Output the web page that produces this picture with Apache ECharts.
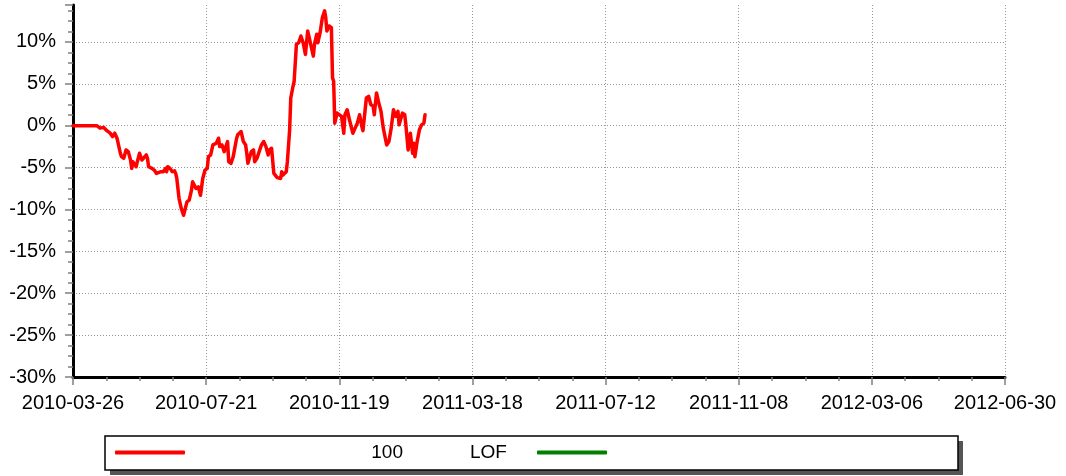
<!DOCTYPE html>
<html lang="en">
<head>
    <meta charset="UTF-8">
    <title>100 LOF</title>
    <script src="https://cdn.jsdelivr.net/npm/echarts@6/dist/echarts.min.js"></script>
    <style>
        html, body { margin: 0; padding: 0; background: #fff; }
    </style>
</head>
<body>
<div id="main" style="width: 1066px;height: 476px"></div>
<script type="text/javascript">
    // x tick labels (equally spaced on the axis)
    var xLabels = ['2010-03-26', '2010-07-21', '2010-11-19', '2011-03-18',
        '2011-07-12', '2011-11-08', '2012-03-06', '2012-06-30'];
    var daysPerTick = 118;

    // days since 2010-03-26
    var dayOffsets = [
        0, 21, 24, 27, 30, 33, 35, 37, 39, 40,
        42, 43, 45, 47, 49, 51, 52, 53, 56, 57,
        59, 61, 62, 65, 66, 67, 70, 72, 74, 75,
        78, 80, 82, 83, 84, 86, 88, 90, 91, 92,
        94, 96, 98, 99, 101, 103, 105, 106, 109, 111,
        113, 114, 115, 117, 119, 120, 122, 124, 127, 129,
        130, 132, 134, 137, 138, 140, 142, 145, 146, 149,
        151, 153, 154, 155, 158, 160, 161, 163, 164, 167,
        169, 171, 173, 174, 176, 177, 178, 181, 184, 185,
        186, 189, 190, 192, 193, 195, 196, 198, 200, 202,
        204, 206, 208, 209, 213, 214, 216, 217, 219, 221,
        223, 224, 225, 227, 229, 230, 231, 232, 234, 235,
        238, 240, 241, 243, 245, 248, 249, 252, 254, 256,
        257, 260, 262, 264, 266, 267, 269, 271, 273, 275,
        278, 280, 282, 284, 286, 288, 289, 292, 294, 295,
        297, 299, 301, 302, 303, 305, 307, 309, 311, 312
    ];
    // cumulative return, %
    var returns100 = [
        0, 0, -0.3, -0.2, -0.6, -0.9, -1.3, -0.9, -1.5, -1.7,
        -3.3, -3.7, -3.9, -2.9, -3.1, -4.1, -5.1, -4.3, -4.9, -4.3,
        -3.3, -4.1, -4.3, -3.5, -3.9, -4.9, -5.1, -5.3, -5.7, -5.9,
        -5.5, -5.5, -5.1, -5.5, -4.9, -5.1, -5.5, -5.4, -5.7, -6.3,
        -8.7, -9.9, -10.7, -10.5, -9.1, -8.9, -7.7, -6.7, -7.5, -7.3,
        -8.3, -8.3, -6.3, -5.3, -5.1, -3.7, -3.5, -2.3, -2.1, -1.5,
        -2.5, -2.3, -3.1, -1.9, -4.3, -4.5, -3.7, -1.5, -1.1, -0.7,
        -1.9, -2.3, -3.3, -4.5, -3.1, -2.9, -4.3, -3.9, -4.1, -2.3,
        -1.9, -2.5, -3.5, -2.9, -2.7, -4.2, -5.7, -6.2, -6.3, -5.5,
        -5.9, -5.5, -4.3, -0.5, 3.3, 4.7, 5.3, 9.7, 9.9, 10.7,
        9.9, 8.5, 11.3, 10.7, 8.3, 9.7, 10.9, 9.9, 11.1, 12.9,
        13.7, 12.9, 11.3, 11.9, 11.7, 5.7, 5.3, 0.3, 1.5, 1.7,
        1.1, -0.9, 1.3, 1.9, 0.7, -0.9, -0.7, 0.3, 1.3, -0.1,
        -0.6, 3.3, 3.5, 2.5, 2.3, 1.3, 3.9, 2.7, 1.7, -0.3,
        -2.3, -1.9, -0.3, 1.9, 1.1, 1.7, 0.1, 1.5, 1.3, 0.1,
        -2.9, -0.9, -3.3, -2.1, -3.7, -1.9, -0.5, 0.1, 0.3, 1.3
    ];
    var returnsLOF = [];

    var font = 'Arial, "Liberation Sans", sans-serif';

    var myEcharts = echarts.init(document.getElementById('main'));
    var option = {
        animation: false,
        backgroundColor: '#fff',
        grid: { left: 73, right: 61, top: 5, bottom: 99 },
        graphic: [
            // legend frame with hard shadow
            { type: 'rect', z: 1, shape: { x: 110, y: 441, width: 853, height: 34 }, style: { fill: '#555' } },
            { type: 'rect', z: 2, shape: { x: 105, y: 436, width: 853, height: 34 }, style: { fill: '#fff', stroke: '#000', lineWidth: 1.5 } }
        ],
        legend: [
            {
                data: ['100'], left: 115, top: 443, padding: 0, z: 5,
                icon: 'roundRect', itemWidth: 70, itemHeight: 4,
                formatter: '{t|{name}}',
                textStyle: { rich: { t: { width: 213, align: 'right', fontSize: 19, fontFamily: font, color: '#000' } } }
            },
            {
                data: ['LOF'], left: 470, top: 443, padding: 0, z: 5, align: 'right',
                icon: 'roundRect', itemWidth: 70, itemHeight: 4,
                formatter: '{t|{name}}',
                textStyle: { rich: { t: { width: 62, align: 'left', fontSize: 19, fontFamily: font, color: '#000' } } }
            }
        ],
        xAxis: {
            type: 'value',
            min: 0,
            max: daysPerTick * (xLabels.length - 1),
            interval: daysPerTick,
            axisLine: { onZero: false, lineStyle: { color: '#000', width: 3 } },
            axisTick: { length: 8, lineStyle: { color: '#808080', width: 1.5 } },
            minorTick: { show: true, splitNumber: 4, length: 4, lineStyle: { color: '#808080', width: 1.5 } },
            splitLine: { show: true, lineStyle: { color: '#999', type: [1, 2], width: 1 } },
            axisLabel: {
                margin: 16, fontSize: 20, fontFamily: font, color: '#000',
                formatter: function (v) { return xLabels[Math.round(v / daysPerTick)]; }
            }
        },
        yAxis: {
            type: 'value',
            min: -30,
            max: 14.4,
            interval: 5,
            axisLine: { show: true, lineStyle: { color: '#000', width: 3 } },
            axisTick: { show: true, length: 8, lineStyle: { color: '#808080', width: 1.5 } },
            minorTick: { show: true, splitNumber: 4, length: 5, lineStyle: { color: '#808080', width: 1.5 } },
            splitLine: { show: true, showMaxLine: false, lineStyle: { color: '#999', type: [1, 2], width: 1 } },
            axisLabel: {
                margin: 17, fontSize: 20, fontFamily: font, color: '#000', showMaxLabel: false,
                formatter: function (v) { return (v % 5 === 0) ? v + '%' : ''; }
            }
        },
        series: [
            {
                name: '100',
                type: 'line',
                showSymbol: false,
                color: '#ff0000',
                lineStyle: { width: 3.5, join: 'round', cap: 'round' },
                data: dayOffsets.map(function (d, i) { return [d, returns100[i]]; })
            },
            {
                name: 'LOF',
                type: 'line',
                showSymbol: false,
                color: '#008000',
                lineStyle: { width: 3.5 },
                data: returnsLOF
            }
        ]
    };
    myEcharts.setOption(option);
</script>
</body>
</html>
